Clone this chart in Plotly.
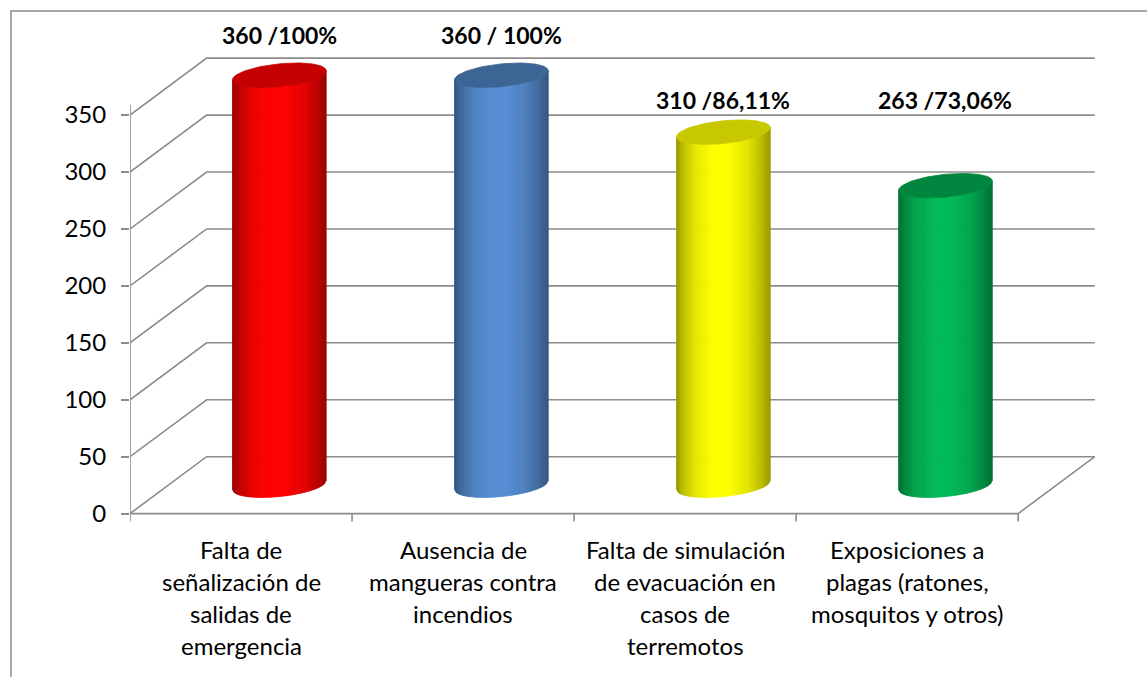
import numpy as np
import plotly.graph_objects as go

# ---- data ----
categories = [
    ["Falta de", "señalización de", "salidas de", "emergencia"],
    ["Ausencia de", "mangueras contra", "incendios"],
    ["Falta de simulación", "de evacuación en", "casos de", "terremotos"],
    ["Exposiciones a", "plagas (ratones,", "mosquitos y otros)"],
]
values = [360, 360, 310, 263]
value_labels = ["360 /100%", "360 / 100%", "310 /86,11%", "263 /73,06%"]
y_ticks = [0, 50, 100, 150, 200, 250, 300, 350]

# ---- styling ----
body_rgb = [(255, 0, 0), (86, 142, 212), (255, 255, 0), (0, 186, 86)]
top_rgb = [(196, 0, 0), (60, 100, 148), (200, 200, 0), (0, 134, 62)]
label_heights = [420, 420, 363, 363]      # where the value captions sit
FONT = "Lato, 'Noto Sans', sans-serif"
GRID = "#8c8c8c"

DX = 0.345   # oblique depth along x (category units)
DY = 50      # oblique depth along y (value units)
AX_TOP = 359
RAD_X = 0.211   # cylinder half width
RAD_Y = 10      # ellipse half height (value units)
SHEAR = 4       # tilt of the ellipses
N_STRIPS = 48

n = len(values)
fig = go.Figure()


def line(xs, ys, color=GRID, width=1.6):
    fig.add_trace(go.Scatter(x=xs, y=ys, mode="lines", hoverinfo="skip",
                             line=dict(color=color, width=width), showlegend=False))


# back wall gridlines with their diagonal on the side wall
for v in y_ticks:
    line([-0.5, -0.5 + DX, n - 0.5 + DX], [v, v + DY, v + DY])
# floor: front edge and right diagonal
line([-0.5, n - 0.5, n - 0.5 + DX], [0, 0, DY])
# front value axis
line([-0.5, -0.5], [0, AX_TOP])
# category boundary ticks
for k in range(n + 1):
    line([k - 0.5, k - 0.5], [0, -7])


def shade(t):
    stops_t = [0.0, 0.06, 0.2, 0.4, 0.55, 0.75, 0.9, 1.0]
    stops_f = [0.58, 0.72, 0.9, 1.0, 1.0, 0.9, 0.75, 0.6]
    return float(np.interp(t, stops_t, stops_f))


def rgb(c, f=1.0):
    return "rgb({},{},{})".format(*[int(round(min(255, ch * f))) for ch in c])


for k, v in enumerate(values):
    xc = k + DX / 2
    c0 = DY / 2
    c1 = v + DY / 2
    xs = np.linspace(xc - RAD_X, xc + RAD_X, N_STRIPS + 1)
    u = np.clip((xs - xc) / RAD_X, -1, 1)
    arc = -RAD_Y * np.sqrt(1 - u ** 2) + SHEAR * u
    bot = c0 + arc
    top = c1 + arc
    for i in range(N_STRIPS):
        col = rgb(body_rgb[k], shade((i + 0.5) / N_STRIPS))
        fig.add_trace(go.Scatter(
            x=[xs[i], xs[i + 1], xs[i + 1], xs[i], xs[i]],
            y=[bot[i], bot[i + 1], top[i + 1], top[i], bot[i]],
            mode="lines", fill="toself", fillcolor=col,
            line=dict(color=col, width=0.8), hoverinfo="skip", showlegend=False))
    th = np.linspace(0, 2 * np.pi, 120)
    fig.add_trace(go.Scatter(
        x=xc + RAD_X * np.cos(th),
        y=c1 + RAD_Y * np.sin(th) + SHEAR * np.cos(th),
        mode="lines", fill="toself", fillcolor=rgb(top_rgb[k]),
        line=dict(color=rgb(top_rgb[k]), width=0.8),
        hoverinfo="skip", showlegend=False))

annotations = []
for k, txt in enumerate(value_labels):
    annotations.append(dict(x=k + DX / 2, y=label_heights[k], xref="x", yref="y",
                            text="<b>%s</b>" % txt, showarrow=False,
                            font=dict(family=FONT, size=23, color="black")))
for k, lines in enumerate(categories):
    for j, t in enumerate(lines):
        annotations.append(dict(x=k, y=0, xref="x", yref="y", text=t,
                                showarrow=False, yanchor="middle",
                                yshift=-(36 + 32 * j),
                                font=dict(family=FONT, size=24, color="black")))

fig.update_layout(
    width=1147, height=677,
    margin=dict(l=130, r=40, t=24, b=152),
    paper_bgcolor="white", plot_bgcolor="white",
    showlegend=False,
    annotations=annotations,
    xaxis=dict(range=[-0.5, n - 0.1], showgrid=False, zeroline=False,
               showticklabels=False, ticks="", fixedrange=True),
    yaxis=dict(range=[-10, 430], showgrid=False, zeroline=False,
               tickvals=y_ticks, ticktext=[str(t) for t in y_ticks],
               ticks="outside", ticklen=8, tickwidth=1.6, tickcolor=GRID,
               ticklabelstandoff=10,
               tickfont=dict(family=FONT, size=24, color="black"), fixedrange=True),
    shapes=[dict(type="rect", xref="paper", yref="paper",
                 x0=(11 - 130) / 977, x1=1.2, y0=-0.5, y1=(525 - 11) / 501,
                 line=dict(color="#8c8c8c", width=1.5), layer="below")],
)

fig.write_html("out.html")
